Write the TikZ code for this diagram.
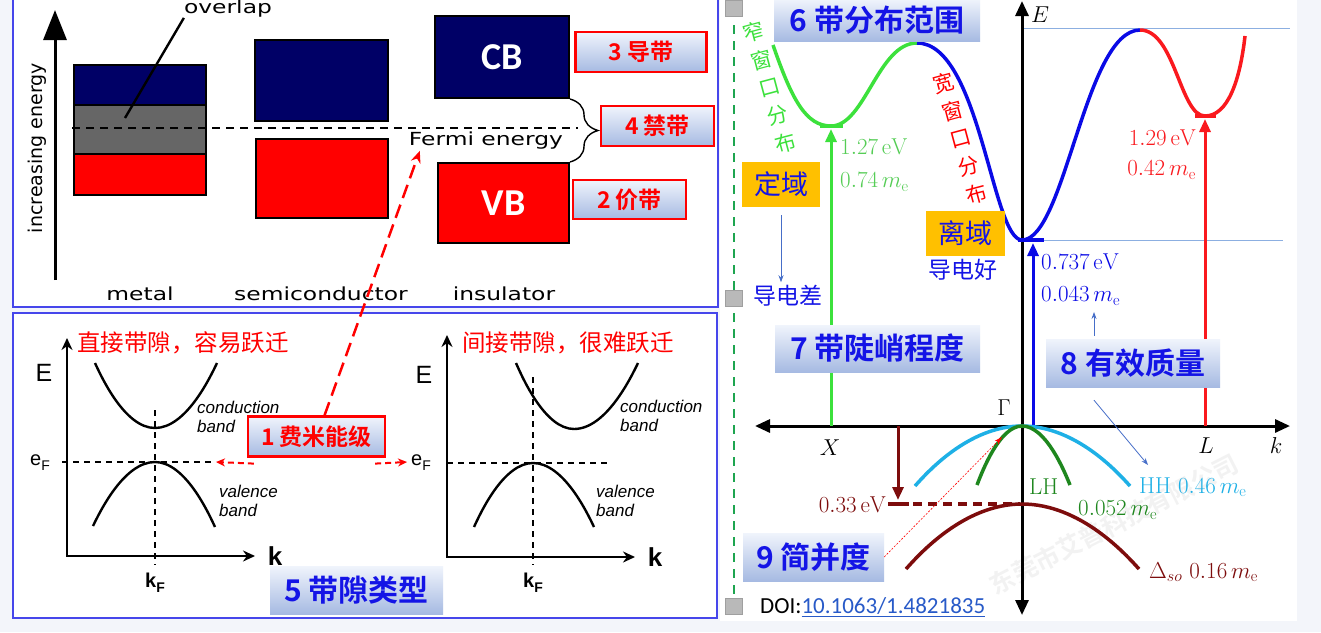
\RequirePackage{fix-cm}
\documentclass[tikz,border=0pt]{standalone}
\usepackage{fontspec}
\newfontfamily\cjk{Noto Sans CJK SC}[BoldFont={Noto Sans CJK SC Bold}]
\newfontfamily\bandfont{DejaVu Sans}[FakeStretch=1.3]
\newfontfamily\plainsans{DejaVu Sans}
\newfontfamily\arialfont{Liberation Sans}
\newfontfamily\calfont{Carlito}
\usetikzlibrary{
  arrows.meta,
  calc,
  decorations.pathreplacing,
  positioning
}
\definecolor{pagebg}{RGB}{243,245,250}
\definecolor{panelblue}{RGB}{70,70,235}
\definecolor{navyband}{RGB}{0,0,102}
\definecolor{overlapgray}{RGB}{102,102,102}
\definecolor{tagtop}{RGB}{240,244,252}
\definecolor{tagbot}{RGB}{166,186,226}
\definecolor{topicblue}{RGB}{20,20,230}
\definecolor{gold}{RGB}{255,192,0}
\definecolor{guideblue}{RGB}{140,175,225}
\definecolor{hhblue}{RGB}{30,176,230}
\definecolor{lhgreen}{RGB}{30,135,30}
\definecolor{sored}{RGB}{125,12,12}
\definecolor{bandgreen}{RGB}{60,225,60}
\definecolor{labgreen}{RGB}{85,205,85}
\definecolor{bandblue}{RGB}{10,10,230}
\definecolor{bandred}{RGB}{250,25,30}
\definecolor{dashgreen}{RGB}{30,165,80}
\definecolor{hintblue}{RGB}{70,110,200}
\definecolor{linkblue}{RGB}{40,90,200}
\newcommand\subF{\raisebox{-5pt}{\fontsize{14}{14}\selectfont F}}
\tikzset{
  tag/.style={
    draw=red,
    line width=2.2pt,
    top color=tagtop,
    bottom color=tagbot,
    text=red,
    inner sep=0pt,
    font=\cjk\bfseries\fontsize{23}{26}\selectfont
  },
  topic/.style={
    top color=tagtop,
    bottom color=tagbot,
    text=topicblue,
    inner sep=0pt,
    font=\cjk\bfseries\fontsize{30}{33}\selectfont
  },
  goldbox/.style={fill=gold,text=topicblue,inner sep=0pt,font=\cjk\fontsize{27}{29}\selectfont},
  bandbox/.style={draw=black,line width=2pt,text=white,inner sep=0pt,font=\calfont\bfseries\fontsize{38}{40}\selectfont},
  band/.style={draw=black,line width=2pt},
  sanslabel/.style={inner sep=0pt,font=\bandfont\fontsize{18}{20}\selectfont},
  italabel/.style={inner sep=0pt,align=left,anchor=west,font=\arialfont\itshape\fontsize{17}{19}\selectfont},
  graphlabel/.style={inner sep=0pt,font=\arialfont\fontsize{25}{27}\selectfont},
  redtext/.style={inner sep=0pt,anchor=west,text=red,font=\cjk\fontsize{23.5}{25}\selectfont},
  bluetext/.style={inner sep=0pt,text=topicblue,font=\cjk\fontsize{23}{25}\selectfont},
  mlabel/.style={inner sep=0pt,font=\fontsize{23}{27}\selectfont},
  axis/.style={line width=2.4pt,{Stealth[length=12pt,width=11pt]}-{Stealth[length=12pt,width=11pt]}},
  bigaxis/.style={line width=3pt,{Triangle[length=15pt,width=13pt]}-{Triangle[length=15pt,width=13pt]}},
  curve/.style={line width=2.4pt},
  guide dash/.style={line width=1.6pt,dash pattern=on 6pt off 5pt},
  redlink/.style={red,line width=2pt,dash pattern=on 6pt off 4pt,-{Stealth[length=9pt,width=8pt]}},
  redlink long/.style={red,line width=2.5pt,dash pattern=on 14pt off 7pt,-{Stealth[length=12pt,width=10pt]}},
  hint/.style={hintblue,line width=0.8pt,-{Stealth[length=7pt,width=5pt]}},
  redhint/.style={red,line width=0.6pt,dash pattern=on 2pt off 1.5pt,-{Stealth[length=8pt,width=5pt]}},
  upflow/.style={line width=3pt,-{Triangle[length=13pt,width=11pt]}},
  bandline/.style={line width=3.5pt}
}

\begin{document}
\begin{tikzpicture}[x=1pt,y=1pt]
  \useasboundingbox (0,0) rectangle (1321,-632);
  \fill[pagebg] (0,0) rectangle (1321,-632);
  \fill[white] (13,0) rectangle (718,-307);
  \draw[panelblue,line width=1.2pt] (13,0) -- (13,-307) -- (718,-307) -- (718,0);
  \filldraw[fill=white,draw=panelblue,line width=1.2pt] (13,-313) rectangle (717,-618);
  \fill[white] (720,0) rectangle (1297,-621);

  % band filling: metal, semiconductor, insulator
  \draw[line width=3pt,-{Triangle[length=30pt,width=23pt]}] (55,-280) -- (55,-10);
  \node[font=\plainsans\fontsize{19}{21}\selectfont,rotate=90] (incr) at (37,-148) {increasing energy};
  \filldraw[band,fill=navyband] (74,-65) rectangle (206,-105);
  \filldraw[band,fill=overlapgray] (74,-105) rectangle (206,-154);
  \filldraw[band,fill=red] (74,-154) rectangle (206,-195);
  \filldraw[band,fill=navyband] (255,-40) rectangle (388,-121);
  \filldraw[band,fill=red] (256,-139) rectangle (388,-218);
  \node[bandbox,fill=navyband,minimum width=134pt,minimum height=82pt] (cb) at (502,-57) {CB};
  \node[bandbox,fill=red,minimum width=131pt,minimum height=80pt] (vb) at (503.5,-203) {VB};
  \draw[line width=2.2pt,dash pattern=on 8pt off 6pt] (72,-128) -- (578,-128);
  \node[sanslabel] (overlap) at (228,-9) {overlap};
  \coordinate (ovl) at (125,-118);
  \draw[line width=2.4pt] (overlap.south west) -- (ovl);
  \node[sanslabel] (fermi) at (486,-141) {Fermi energy};
  \node[sanslabel] (metal) at (140,-294) {metal};
  \node[sanslabel] (semi) at (321,-294) {semiconductor};
  \node[sanslabel] (insu) at (504,-294) {insulator};
  \draw[line width=1.4pt,decorate,decoration={brace,amplitude=28pt}] (cb.south east) -- (vb.north east);
  \node[tag,minimum width=131pt,minimum height=40pt] (cbtag) at (641,-52) {3 导带};
  \node[tag,minimum width=113pt,minimum height=40pt] (gaptag) at (657.5,-126) {4 禁带};
  \node[tag,minimum width=113pt,minimum height=39pt] (vbtag) at (629.5,-199.5) {2 价带};

  % direct gap
  \draw[axis] (67,-338) -- (67,-556) -- (255,-556);
  \draw[curve] (95,-363) parabola bend (155,-428) (217,-363);
  \draw[curve] (93,-526) parabola bend (155,-462) (215,-527);
  \draw[guide dash] (155,-410) -- (155,-565);
  \draw[guide dash] (62,-462) -- (213,-462);
  \node[graphlabel] (E1) at (44,-373) {E};
  \node[graphlabel,font=\arialfont\fontsize{20}{22}\selectfont] (ef1) at (40,-463) {e\subF};
  \node[graphlabel,font=\arialfont\bfseries\fontsize{26}{28}\selectfont] (k1) at (275,-556) {k};
  \node[graphlabel,font=\arialfont\bfseries\fontsize{20}{22}\selectfont] (kf1) at (155,-583) {k\subF};
  \node[italabel] (cond1) at (197,-417) {conduction\\band};
  \node[italabel] (val1) at (219,-501) {valence\\band};
  \node[redtext] (direct) at (77,-343) {直接带隙，容易跃迁};

  % indirect gap
  \draw[axis] (447,-335) -- (447,-557) -- (635,-557);
  \draw[curve] (516,-363) parabola bend (574,-429) (638,-363);
  \draw[curve] (474,-527) parabola bend (533,-463) (594,-527);
  \draw[guide dash] (533,-377) -- (533,-565);
  \draw[guide dash] (447,-463) -- (610,-463);
  \node[graphlabel] (E2) at (424,-375) {E};
  \node[graphlabel,font=\arialfont\fontsize{20}{22}\selectfont] (ef2) at (421,-463) {e\subF};
  \node[graphlabel,font=\arialfont\bfseries\fontsize{26}{28}\selectfont] (k2) at (655,-557) {k};
  \node[graphlabel,font=\arialfont\bfseries\fontsize{20}{22}\selectfont] (kf2) at (533,-583) {k\subF};
  \node[italabel] (cond2) at (620,-416) {conduction\\band};
  \node[italabel] (val2) at (596,-501) {valence\\band};
  \node[redtext] (indirect) at (462,-343) {间接带隙，很难跃迁};

  \node[tag,minimum width=137pt,minimum height=40pt] (fermitag) at (316.5,-436.5) {1 费米能级};
  \node[topic,minimum width=173pt,minimum height=48pt] (gaptype) at (356.5,-590) {5 带隙类型};
  \coordinate (ef1tip) at (216,-462);
  \coordinate (ef2tip) at (407,-462);
  \draw[redlink] ($(fermitag.south west)+(7,-6)$) -- (ef1tip);
  \draw[redlink] ($(fermitag.south east)+(-11,-6)$) -- (ef2tip);
  \draw[redlink long] ($(fermitag.north)+(8,0)$) -- ($(fermi.south west)+(11,-1)$);

  % Ge band structure
  \node[font=\cjk\bfseries\fontsize{25}{25}\selectfont,text=gray!40,opacity=.25,rotate=27] (mark) at (1114,-524) {东莞市艾普科技有限公司};
  \draw[dashgreen,line width=2.5pt,dash pattern=on 9pt off 7pt] (734,-25) -- (734,-598);
  \foreach \qy in {8,298,606}
    \filldraw[fill=gray!55,draw=gray!75] (725,-\qy+8) rectangle (742,-\qy-8);
  \draw[guideblue,line width=1pt] (1022,-28) -- (1290,-28);
  \draw[guideblue,line width=1pt] (1022,-240) -- (1283,-240);
  \draw[bigaxis] (1022,-615) -- (1022,-1);
  \draw[bigaxis] (755,-426) -- (1290,-426);

  \draw[bandgreen,bandline] (773,-45) .. controls (792,-100) and (806,-126) .. (831,-126)
    .. controls (865,-126) and (878,-43) .. (917,-43);
  \draw[bandblue,bandline] (917,-43) .. controls (980,-43) and (992,-240) .. (1022,-240)
    .. controls (1065,-240) and (1085,-30) .. (1140,-30);
  \draw[bandred,bandline] (1140,-30) .. controls (1175,-30) and (1180,-116) .. (1205,-116)
    .. controls (1228,-116) and (1240,-80) .. (1245,-36);
  \draw[bandgreen,line width=4.5pt] (820,-126) -- (843,-126);
  \draw[bandblue,line width=4.5pt] (1018,-240) -- (1044,-240);
  \draw[bandred,line width=4.5pt] (1195,-116) -- (1216,-116);

  \coordinate (Xpt) at (831,-426);
  \coordinate (Xmin) at (831,-129);
  \coordinate (Gpt) at (1033,-426);
  \coordinate (Gmin) at (1033,-243);
  \coordinate (Lpt) at (1205,-426);
  \coordinate (Lmin) at (1205,-119);
  \draw[bandgreen,upflow] (Xpt) -- (Xmin);
  \draw[bandblue,upflow] (Gpt) -- (Gmin);
  \draw[bandred,upflow] (Lpt) -- (Lmin);

  \draw[hhblue,bandline] (915,-486) parabola bend (1022,-426) (1130,-486);
  \draw[lhgreen,bandline] (977,-485) parabola bend (1022,-426) (1070,-485);
  \draw[sored,bandline] (906,-569) parabola bend (1022,-504) (1139,-569);
  \coordinate (sotop) at (898,-426);
  \coordinate (sobar) at (898,-500);
  \draw[sored,upflow] (sotop) -- (sobar);
  \draw[sored,line width=3.5pt] (888,-504) -- (909,-504);
  \draw[sored,line width=3.5pt,dash pattern=on 9pt off 6pt] (913,-504) -- (1020,-504);

  \node[mlabel] (Elbl) at (1040,-15) {$E$};
  \node[mlabel] (Xlbl) at (830,-448) {$X$};
  \node[mlabel] (Llbl) at (1206,-446) {$L$};
  \node[mlabel] (klbl) at (1276,-446) {$k$};
  \node[mlabel] (Glbl) at (1004,-408) {$\Gamma$};
  \node[mlabel,text=labgreen,anchor=west] (gapX) at (840,-147) {$1.27\,\mathrm{eV}$};
  \node[mlabel,text=labgreen,anchor=west] (massX) at (840,-182) {$0.74\,m_{\mathrm{e}}$};
  \node[mlabel,text=bandblue,anchor=west] (gapG) at (1041,-262) {$0.737\,\mathrm{eV}$};
  \node[mlabel,text=bandblue,anchor=west] (massG) at (1041,-296) {$0.043\,m_{\mathrm{e}}$};
  \node[mlabel,text=bandred,anchor=east] (gapL) at (1196,-138) {$1.29\,\mathrm{eV}$};
  \node[mlabel,text=bandred,anchor=east] (massL) at (1196,-170) {$0.42\,m_{\mathrm{e}}$};
  \node[mlabel,text=sored,anchor=east] (gapso) at (886,-505) {$0.33\,\mathrm{eV}$};
  \node[mlabel,text=lhgreen,anchor=west] (lhname) at (1029,-487) {$\mathrm{LH}$};
  \node[mlabel,text=lhgreen,anchor=west] (lhmass) at (1078,-510) {$0.052\,m_{\mathrm{e}}$};
  \node[mlabel,text=hhblue,anchor=west] (hhmass) at (1139,-487) {$\mathrm{HH}\ 0.46\,m_{\mathrm{e}}$};
  \node[mlabel,text=sored,anchor=west] (somass) at (1149,-572) {$\Delta_{so}\ 0.16\,m_{\mathrm{e}}$};

  \foreach \c [count=\i from 0] in {窄,窗,口,分,布}
    \node[inner sep=0pt,rotate=15,text=bandgreen,font=\cjk\fontsize{21}{21}\selectfont] (narrow\i) at (754+8*\i,-32-27.75*\i) {\c};
  \foreach \c [count=\i from 0] in {宽,窗,口,分,布}
    \node[inner sep=0pt,rotate=15,text=red,font=\cjk\fontsize{21}{21}\selectfont] (wide\i) at (944+8.25*\i,-83-27.75*\i) {\c};

  \node[goldbox,minimum width=78pt,minimum height=45pt] (dingyu) at (781,-184.5) {定域};
  \node[goldbox,minimum width=79pt,minimum height=45pt] (liyu) at (965.5,-233.5) {离域};
  \node[bluetext] (cha) at (788,-296) {导电差};
  \node[bluetext] (hao) at (963,-270) {导电好};
  \draw[hint] ([yshift=-8pt]dingyu.south) -- ([yshift=3pt]dingyu.south |- cha.north);

  \node[topic,minimum width=206pt,minimum height=42pt] (spread) at (877,-20) {6 带分布范围};
  \node[topic,minimum width=205pt,minimum height=47pt] (steep) at (877.5,-348.5) {7 带陡峭程度};
  \node[topic,minimum width=174pt,minimum height=48pt] (effmass) at (1133,-363) {8 有效质量};
  \node[topic,minimum width=141pt,minimum height=48pt] (degen) at (813.5,-557) {9 简并度};
  \coordinate (massGtip) at (1094,-312);
  \coordinate (hhtip) at (1148,-465);
  \coordinate (gammatip) at (1002,-437);
  \draw[hint] ([xshift=-39pt,yshift=3pt]effmass.north) -- (massGtip);
  \draw[hint] ([xshift=-39pt,yshift=-13pt]effmass.south) -- (hhtip);
  \draw[redhint] (degen.east) -- (gammatip);

  \node[inner sep=0pt,anchor=west,font=\calfont\fontsize{23}{25}\selectfont] (doi) at (760,-607)
    {DOI:\textcolor{linkblue}{\underline{10.1063/1.4821835}}};
\end{tikzpicture}
\end{document}
